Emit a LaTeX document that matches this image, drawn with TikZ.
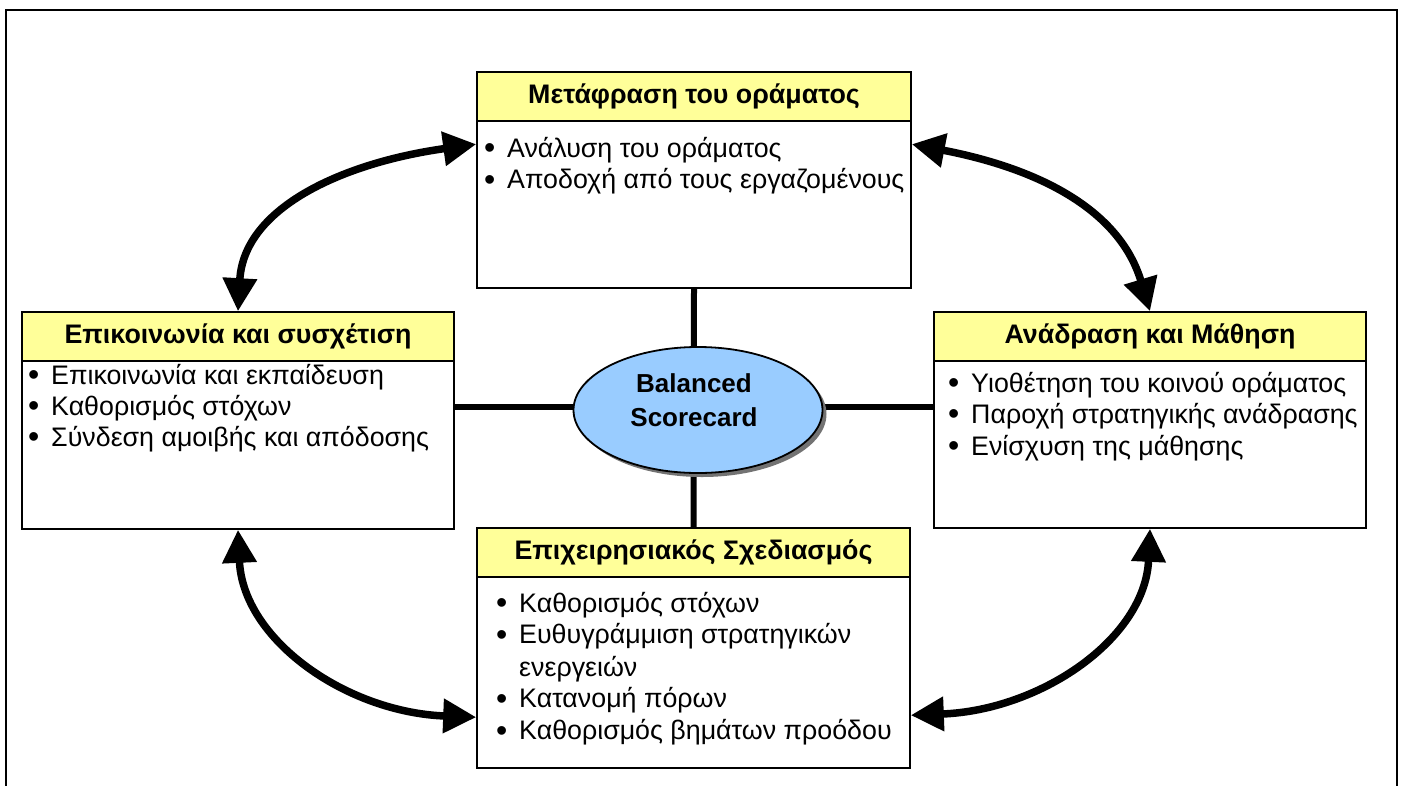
\documentclass[tikz,border=0pt]{standalone}
\usepackage{fontspec}
\setmainfont{Liberation Sans}
\usetikzlibrary{arrows.meta,shapes.geometric,shadows,calc}
\definecolor{hdrY}{HTML}{FFFF99}
\definecolor{ellB}{HTML}{99CCFF}
\newcommand\bfnt{\fontsize{26.8}{31.7}\selectfont}
\newcommand\hfnt{\fontsize{26.8}{30}\selectfont\bfseries}
\newcommand\bul{\makebox[23pt][l]{\raisebox{-1.8pt}{\fontsize{32}{32}\selectfont •}}}
\begin{document}
\begin{tikzpicture}[x=1pt,y=-1pt,
  frame/.style={draw,line width=2pt},
  box/.style={draw,line width=1.6pt,fill=white,rectangle,inner sep=0pt},
  hdr/.style={draw,line width=1.6pt,fill=hdrY,rectangle,inner sep=0pt,font=\hfnt,minimum height=49pt},
  itm/.style={anchor=base west,inner sep=0pt,font=\bfnt},
  conn/.style={line width=6pt},
  arr/.style={line width=7.5pt,{Triangle[length=33pt,width=33pt]}-{Triangle[length=33pt,width=33pt]}},
  ell/.style={ellipse,draw,line width=1.8pt,fill=ellB,inner sep=0pt,
    drop shadow={shadow xshift=4pt,shadow yshift=-4pt,fill=black!55,opacity=1}},
]
\useasboundingbox (0,0) rectangle (1405,785);
\draw[frame] (6,10) rectangle (1397,800);

% boxes
\node[box,minimum width=434pt,minimum height=216pt] (top) at (694,180) {};
\node[box,minimum width=432pt,minimum height=217pt] (left) at (238,420.5) {};
\node[box,minimum width=432pt,minimum height=216pt] (right) at (1150,420) {};
\node[box,minimum width=433pt,minimum height=240pt] (bottom) at (693.5,648) {};

% headers
\node[hdr,minimum width=434pt,anchor=north] (toph) at (top.north) {Μετάφραση του οράματος};
\node[hdr,minimum width=432pt,anchor=north] (lefth) at (left.north) {Επικοινωνία και συσχέτιση};
\node[hdr,minimum width=432pt,anchor=north] (righth) at (right.north) {Ανάδραση και Μάθηση};
\node[hdr,minimum width=433pt,anchor=north] (bottomh) at (bottom.north) {Επιχειρησιακός Σχεδιασμός};

% items
\node[itm] (t1) at (484,157) {\bul Ανάλυση του οράματος};
\node[itm] (t2) at (484,188.5) {\bul Αποδοχή από τους εργαζομένους};

\node[itm] (l1) at (28,384) {\bul Επικοινωνία και εκπαίδευση};
\node[itm] (l2) at (28,415) {\bul Καθορισμός στόχων};
\node[itm] (l3) at (28,446) {\bul Σύνδεση αμοιβής και απόδοσης};

\node[itm] (r1) at (948,392) {\bul Υιοθέτηση του κοινού οράματος};
\node[itm] (r2) at (948,423) {\bul Παροχή στρατηγικής ανάδρασης};
\node[itm] (r3) at (948,455) {\bul Ενίσχυση της μάθησης};

\node[itm] (b1) at (496,612) {\bul Καθορισμός στόχων};
\node[itm] (b2) at (496,643.5) {\bul Ευθυγράμμιση στρατηγικών};
\node[itm] (b3) at (496,676) {\hspace*{23pt}ενεργειών};
\node[itm] (b4) at (496,707.5) {\bul Κατανομή πόρων};
\node[itm] (b5) at (496,739.5) {\bul Καθορισμός βημάτων προόδου};

% straight connectors
\coordinate (hc) at (0,407);
\draw[conn] (top.south) -- (bottom.north);
\draw[conn] (left.east |- hc) -- (right.west |- hc);

% centre
\node[ell,minimum width=249pt,minimum height=126pt] (bsc) at (698,410) {};
\node[font=\fontsize{26}{34}\selectfont\bfseries,align=center,inner sep=0pt] (bsct) at (694,400) {Balanced\\Scorecard};

% curved double arrows
\draw[arr] ($(top.north west)+(0,73)$) .. controls +(-130,18) and +(6,-105) .. (left.north);
\draw[arr] ($(top.north east)+(0,73)$) .. controls +(130,25) and +(-30,-100) .. (right.north);
\draw[arr] (left.south) .. controls +(5,110) and +(-130,-5) .. ($(bottom.north west)+(0,190)$);
\draw[arr] (right.south) .. controls +(-5,110) and +(130,-5) .. ($(bottom.north east)+(0,188)$);
\end{tikzpicture}
\end{document}
